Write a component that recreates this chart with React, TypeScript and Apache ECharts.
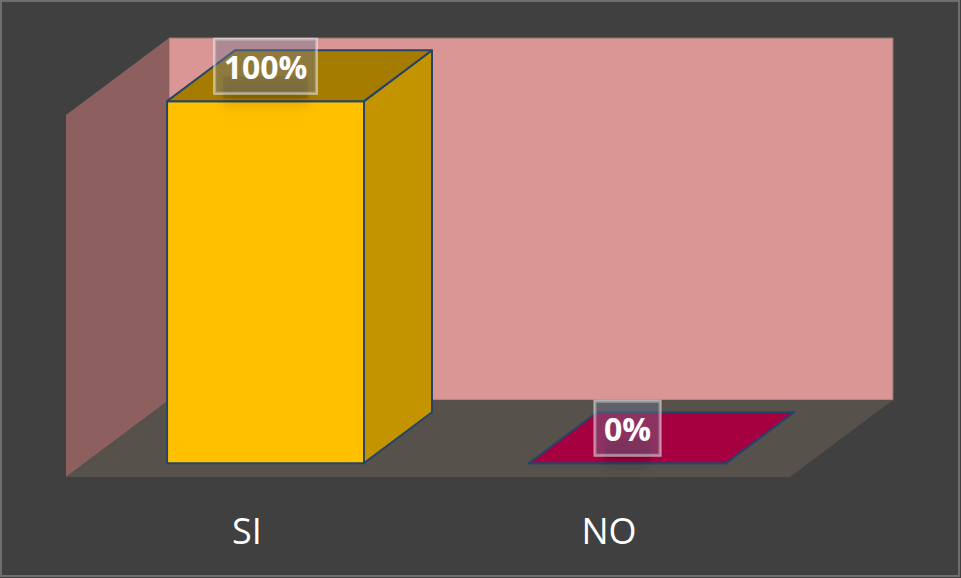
import React, { useEffect, useRef } from "react";
import * as echarts from "echarts";

// ---- data ----
const categories: string[] = ["SI", "NO"];
const values: number[] = [100, 0];
const valueLabels: string[] = ["100%", "0%"];

// ---- styling constants ----
const FRONT_COLORS = ["#FFC000", "#A50040"];
const SIDE_COLORS = ["#C39400", "#7C0030"];
const TOP_COLORS = ["#A67C00", "#A50040"];
const OUTLINE = "#264468";
const DX = 103; // depth offset of the whole chart box
const DY = -77;
const F0 = 0.18; // bar front depth fraction
const F1 = 0.84; // bar back depth fraction
const BAR_RATIO = 0.544;

export default function App() {
  const ref = useRef<HTMLDivElement>(null);

  useEffect(() => {
    if (!ref.current) return;
    const chart = echarts.init(ref.current, undefined, { renderer: "svg" });

    const wallsRender = (params: any) => {
      const cs = params.coordSys;
      const x0 = cs.x;
      const y0 = cs.y;
      const w = cs.width;
      const h = cs.height;
      return {
        type: "group",
        children: [
          {
            type: "rect",
            shape: { x: x0 + DX, y: y0 + DY, width: w, height: h },
            style: { fill: "#D99694", stroke: "#8E7574", lineWidth: 1 },
          },
          {
            type: "polygon",
            shape: {
              points: [
                [x0, y0],
                [x0 + DX, y0 + DY],
                [x0 + DX, y0 + h + DY],
                [x0, y0 + h],
              ],
            },
            style: { fill: "#8D605F" },
          },
          {
            type: "polygon",
            shape: {
              points: [
                [x0, y0 + h],
                [x0 + w, y0 + h],
                [x0 + w + DX, y0 + h + DY],
                [x0 + DX, y0 + h + DY],
              ],
            },
            style: { fill: "#56524B" },
          },
        ],
      };
    };

    const barRender = (params: any, api: any) => {
      const i = api.value(0);
      const v = api.value(1);
      const base = api.coord([i, 0]);
      const top = api.coord([i, v]);
      const bw = api.size([1, 0])[0] * BAR_RATIO;
      const fx = base[0] - bw / 2 + F0 * DX;
      const by = base[1] + F0 * DY;
      const ty = top[1] + F0 * DY;
      const dbx = (F1 - F0) * DX;
      const dby = (F1 - F0) * DY;
      const strokeStyle = { stroke: OUTLINE, lineWidth: 2, lineJoin: "round" };
      const idx = params.dataIndex;
      const lx = fx + bw / 2;
      const ly = ty - 35;
      const labelW = idx === 0 ? 101 : 62;
      const children: any[] = [
        {
          type: "rect",
          shape: { x: fx, y: ty, width: bw, height: by - ty },
          style: { fill: FRONT_COLORS[idx], ...strokeStyle },
        },
        {
          type: "polygon",
          shape: {
            points: [
              [fx + bw, ty],
              [fx + bw + dbx, ty + dby],
              [fx + bw + dbx, by + dby],
              [fx + bw, by],
            ],
          },
          style: { fill: SIDE_COLORS[idx], ...strokeStyle },
        },
        {
          type: "polygon",
          shape: {
            points: [
              [fx, ty],
              [fx + bw, ty],
              [fx + bw + dbx, ty + dby],
              [fx + dbx, ty + dby],
            ],
          },
          style: { fill: TOP_COLORS[idx], ...strokeStyle },
        },
        {
          type: "rect",
          z2: 90,
          shape: { x: lx - labelW / 2 + 8, y: ly + 10, width: labelW - 16, height: 22 },
          style: {
            fill: "rgba(0,0,0,0.12)",
            shadowColor: "rgba(0,0,0,0.9)",
            shadowBlur: 12,
            shadowOffsetY: 8,
          },
        },
        {
          type: "text",
          x: lx,
          y: ly,
          z2: 100,
          style: {
            text: valueLabels[idx],
            fill: "#FFFFFF",
            font: 'bold 32px "Open Sans"',
            align: "center",
            verticalAlign: "middle",
            lineHeight: 36,
            padding: [9, 9, 9, 9],
            backgroundColor: "rgba(110,120,145,0.42)",
            borderColor: "rgba(255,255,255,0.55)",
            borderWidth: 1.5,
          },
        },
      ];
      return { type: "group", children };
    };

    chart.setOption({
      animation: false,
      backgroundColor: "#404040",
      grid: { left: 66, right: 171, top: 115, bottom: 101 },
      xAxis: {
        type: "category",
        data: categories,
        axisLine: { show: false },
        axisTick: { show: false },
        splitLine: { show: false },
        axisLabel: {
          color: "#FFFFFF",
          fontSize: 36,
          fontFamily: '"Open Sans", sans-serif',
          margin: 35,
        },
      },
      yAxis: {
        type: "value",
        min: 0,
        max: 100,
        show: false,
      },
      graphic: [
        {
          type: "rect",
          shape: { x: 1, y: 1, width: 958, height: 575 },
          style: { fill: "none", stroke: "#6E6E6E", lineWidth: 2 },
          z: 100,
        },
      ],
      series: [
        {
          type: "custom",
          renderItem: wallsRender,
          data: [[0, 0]],
          silent: true,
          z: 1,
        },
        {
          type: "custom",
          renderItem: barRender,
          data: values.map((v, i) => [i, v]),
          z: 2,
        },
      ],
    });

    return () => chart.dispose();
  }, []);

  return (
    <div
      ref={ref}
      style={{ position: "fixed", left: 0, top: 0, width: 961, height: 578 }}
    />
  );
}
